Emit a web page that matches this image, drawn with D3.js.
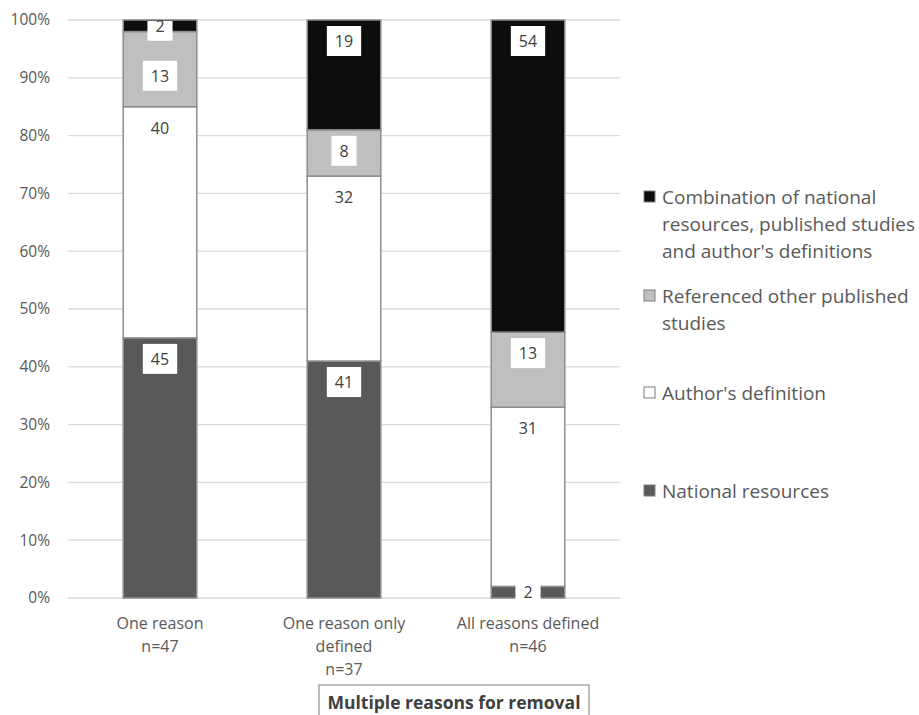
<!DOCTYPE html>
<html>
<head>
<meta charset="utf-8">
<script src="https://cdn.jsdelivr.net/npm/d3@7"></script>
<style>
  html, body { margin: 0; padding: 0; background: #fff; }
  svg { display: block; font-family: "Open Sans", "Noto Sans", sans-serif; }
</style>
</head>
<body>
<svg id="chart" width="919" height="715"></svg>
<script>
// Categories (multi-line axis labels)
const categories = ["One reason", "One reason only defined", "All reasons defined"];
const categoryLines = [
  ["One reason", "n=47"],
  ["One reason only", "defined", "n=37"],
  ["All reasons defined", "n=46"]
];

// Series, bottom to top of each stack (percent of studies)
const seriesNames = [
  "National resources",
  "Author's definition",
  "Referenced other published studies",
  "Combination of national resources, published studies and author's definitions"
];
const nationalResources = [45, 41, 2];
const authorsDefinition = [40, 32, 31];
const referencedStudies = [13, 8, 13];
const combination = [2, 19, 54];

const yTicks = [0, 10, 20, 30, 40, 50, 60, 70, 80, 90, 100];

const seriesColors = ["#595959", "#ffffff", "#bfbfbf", "#0d0d0d"];

// Legend entries, top to bottom, with wrapped lines
const legendEntries = [
  { series: 3, lines: ["Combination of national", "resources, published studies", "and author's definitions"] },
  { series: 2, lines: ["Referenced other published", "studies"] },
  { series: 1, lines: ["Author's definition"] },
  { series: 0, lines: ["National resources"] }
];

const seriesValues = [nationalResources, authorsDefinition, referencedStudies, combination];
const rows = categories.map((c, i) => {
  const r = { category: c };
  seriesNames.forEach((s, j) => { r[s] = seriesValues[j][i]; });
  return r;
});

const svg = d3.select("#chart");
const plot = { left: 68, right: 620, top: 20, bottom: 598 };

const x = d3.scaleBand().domain(categories).range([plot.left, plot.right]).paddingInner(0.6).paddingOuter(0.3);
const y = d3.scaleLinear().domain([0, 100]).range([plot.bottom, plot.top]);

// Gridlines
svg.append("g").selectAll("line").data(yTicks).join("line")
  .attr("x1", plot.left).attr("x2", plot.right)
  .attr("y1", d => y(d)).attr("y2", d => y(d))
  .attr("stroke", "#d9d9d9").attr("stroke-width", 1.3);

// Y axis labels
const yAxis = d3.axisLeft(y).tickValues(yTicks).tickFormat(d => d + "%").tickSize(0).tickPadding(18);
const yg = svg.append("g").attr("transform", `translate(${plot.left},0)`).call(yAxis);
yg.select(".domain").remove();
yg.selectAll("text").attr("font-size", 15.5).attr("fill", "#595959")
  .attr("font-family", "'Open Sans', sans-serif");

// Stacked bars
const stack = d3.stack().keys(seriesNames);
const stacked = stack(rows);

const barG = svg.append("g");
stacked.forEach((layer, si) => {
  barG.append("g").selectAll("rect").data(layer).join("rect")
    .attr("x", d => x(d.data.category))
    .attr("width", x.bandwidth())
    .attr("y", d => y(d[1]))
    .attr("height", d => y(d[0]) - y(d[1]))
    .attr("fill", seriesColors[si])
    .attr("stroke", "#8c8c8c")
    .attr("stroke-width", 1.5);
});

// Value labels in white boxes, near the top of each segment.
// Walk each bar from the top down so a label never overlaps the one above it.
const labelG = svg.append("g");
const boxH = 30, boxPad = 8, fs = 16, boxGap = 20;
categories.forEach((cat, ci) => {
  const cx = x(cat) + x.bandwidth() / 2;
  let prevBottom = -Infinity;
  for (let si = stacked.length - 1; si >= 0; si--) {
    const d = stacked[si][ci];
    const v = d[1] - d[0];
    const top = y(d[1]), bot = y(d[0]);
    const h = bot - top;
    let cy = h < boxH ? (top + bot) / 2 : top + 6 + boxH / 2;
    if (cy - boxH / 2 < prevBottom) cy = prevBottom + boxGap + boxH / 2;
    prevBottom = cy + boxH / 2;
    const rect = labelG.append("rect").attr("fill", "#ffffff");
    const t = labelG.append("text")
      .attr("x", cx).attr("y", cy)
      .attr("text-anchor", "middle").attr("dominant-baseline", "central")
      .attr("font-size", fs).attr("fill", "#404040")
      .text(v);
    const w = t.node().getComputedTextLength();
    rect.attr("x", cx - w / 2 - boxPad).attr("y", Math.max(cy - boxH / 2, plot.top + 1))
      .attr("width", w + boxPad * 2)
      .attr("height", cy + boxH / 2 - Math.max(cy - boxH / 2, plot.top + 1));
  }
});

// Category labels
const catG = svg.append("g");
categoryLines.forEach((lines, i) => {
  const cx = x(categories[i]) + x.bandwidth() / 2;
  const t = catG.append("text").attr("text-anchor", "middle")
    .attr("font-size", 16).attr("fill", "#595959");
  lines.forEach((ln, k) => {
    t.append("tspan").attr("x", cx).attr("y", 629 + k * 23).text(ln);
  });
});

// Bracket grouping the two multi-reason categories
const bx1 = 319, bx2 = 589, by = 685;
svg.append("path")
  .attr("d", `M${bx1},715 V${by} H${bx2} V715`)
  .attr("fill", "none").attr("stroke", "#a6a6a6").attr("stroke-width", 1.5);
svg.append("text")
  .attr("x", (bx1 + bx2) / 2).attr("y", 709)
  .attr("text-anchor", "middle")
  .attr("font-size", 17.5).attr("font-weight", "bold").attr("fill", "#404040")
  .text("Multiple reasons for removal");

// Legend
const legend = svg.append("g");
const legendTops = [197, 296, 393, 491];
legendEntries.forEach((e, i) => {
  const ly = legendTops[i];
  legend.append("rect")
    .attr("x", 644).attr("y", ly - 6).attr("width", 11).attr("height", 11)
    .attr("fill", seriesColors[e.series]).attr("stroke", "#7f7f7f").attr("stroke-width", 1);
  const t = legend.append("text").attr("font-size", 19).attr("fill", "#595959");
  e.lines.forEach((ln, k) => {
    t.append("tspan").attr("x", 662).attr("y", ly + k * 27)
      .attr("dominant-baseline", "central").text(ln);
  });
});
</script>
</body>
</html>
